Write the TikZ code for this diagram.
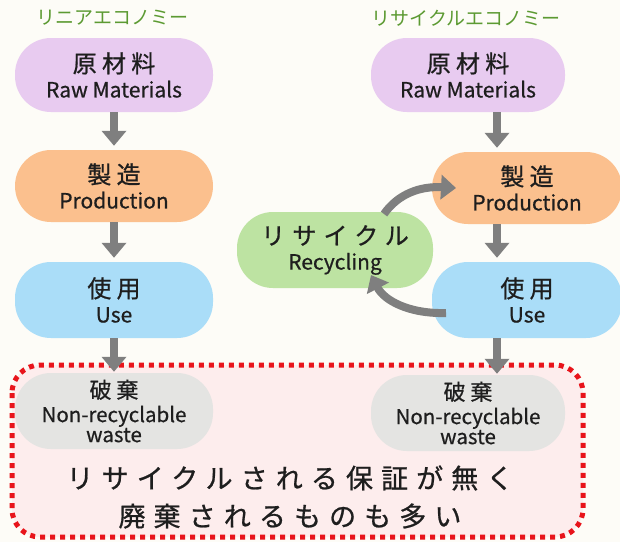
\documentclass[tikz,border=0pt]{standalone}
\usepackage{fontspec}
\setmainfont{Noto Sans CJK JP}[FakeBold=0.6]
\newfontfamily\jpw[LetterSpace=22,FakeBold=0.8]{Noto Sans CJK JP}
\newfontfamily\jpb[LetterSpace=30,FakeBold=0.8]{Noto Sans CJK JP}
\newfontfamily\ttlf{Noto Sans CJK JP}
\usetikzlibrary{arrows.meta}
\definecolor{bg}{HTML}{FDFCF7}
\definecolor{lav}{HTML}{E8CBF0}
\definecolor{ora}{HTML}{FBC08E}
\definecolor{blu}{HTML}{AADDF8}
\definecolor{grn}{HTML}{BDE3A2}
\definecolor{gry}{HTML}{E4E4E2}
\definecolor{arr}{HTML}{7F7F7F}
\definecolor{ttl}{HTML}{5C9A32}
\definecolor{redl}{HTML}{E8141B}
\definecolor{pink}{HTML}{FDEDED}
\definecolor{txt}{HTML}{1E1E1E}
\tikzset{
  pill/.style={rounded corners=36pt, minimum height=74pt, inner sep=0pt, align=center, text=txt, font=\fontsize{21}{25}\selectfont},
  wpill/.style={pill, font=\fontsize{20.5}{19}\selectfont},
  flow/.style={draw=arr, line width=8pt, -{Triangle[width=24pt,length=15pt]}},
  titletext/.style={text=ttl, font=\ttlf\fontsize{19}{20}\selectfont},
  redbox/.style={draw=redl, line width=5pt, dash pattern=on 5pt off 5pt, fill=pink, rounded corners=28pt}
}
\newcommand{\jt}[1]{{\jpw\fontsize{24}{25}\selectfont #1}}
\newcommand{\et}[1]{{\fontsize{21}{25}\selectfont #1}}
\begin{document}
\begin{tikzpicture}[x=1pt,y=-1pt]
\useasboundingbox (0,0) rectangle (620,542);
\clip (0,0) rectangle (620,542);
\fill[bg] (0,0) rectangle (620,542);

% red dotted box
\draw[redbox] (12,365) rectangle (583,537);

% titles
\node[titletext] (t1) at (112,18) {リニアエコノミー};
\node[titletext] (t2) at (466,18) {リサイクルエコノミー};

% left column
\node[pill, fill=lav, minimum width=198pt] (lraw) at (114,75) {\jt{原材料}\\\et{Raw Materials}};
\node[pill, fill=ora, minimum width=198pt, minimum height=72pt] (lprod) at (114,186) {\jt{製造}\\\et{Production}};
\node[pill, fill=blu, minimum width=198pt, minimum height=76pt] (luse) at (114,300) {\jt{使用}\\\et{Use}};
\node[wpill, fill=gry, minimum width=198pt, minimum height=76pt] (lwst) at (114,411) {{\jpw\fontsize{22}{24}\selectfont 破棄}\\[5pt]Non-recyclable\\waste};

% right column
\node[pill, fill=lav, minimum width=194pt] (rraw) at (468,75) {\jt{原材料}\\\et{Raw Materials}};
\node[pill, fill=ora, minimum width=190pt, minimum height=72pt] (rprod) at (527,188) {\jt{製造}\\\et{Production}};
\node[pill, fill=grn, minimum width=196pt, minimum height=76pt] (rec) at (335,250) {{\jpb\fontsize{24}{25}\selectfont リサイクル}\\\et{Recycling}};
\node[pill, fill=blu, minimum width=190pt, minimum height=76pt] (ruse) at (527,300) {\jt{使用}\\\et{Use}};
\node[wpill, fill=gry, minimum width=194pt, minimum height=76pt] (rwst) at (468,413) {{\jpw\fontsize{22}{24}\selectfont 破棄}\\[5pt]Non-recyclable\\waste};

% bottom message
\node[align=center, text=txt, font=\jpb\fontsize{27}{38}\selectfont] (msg) at (290,497) {リサイクルされる保証が無く\\廃棄されるものも多い};

% arrows left
\draw[flow, shorten >=4pt] (lraw.south) -- (lprod.north);
\draw[flow, shorten >=4pt] (lprod.south) -- (luse.north);
\draw[flow, shorten >=1pt] (luse.south) -- (lwst.north);

% arrows right
\coordinate (ax) at (497,0);
\draw[flow, shorten >=4pt] (rraw.south -| ax) -- (rprod.north -| ax);
\draw[flow, shorten >=4pt] (rprod.south -| ax) -- (ruse.north -| ax);
\draw[flow, shorten >=1pt] (ruse.south -| ax) -- (rwst.north -| ax);

% recycling loop
\coordinate (c1s) at (384,214);
\coordinate (c1e) at (456,188);
\coordinate (c2s) at (446,313);
\coordinate (c2e) at (371,275);
\draw[flow] (c1s) .. controls (398,194) and (420,186) .. (c1e);
\draw[flow] (c2s) .. controls (408,314) and (384,300) .. (c2e);
\end{tikzpicture}
\end{document}
